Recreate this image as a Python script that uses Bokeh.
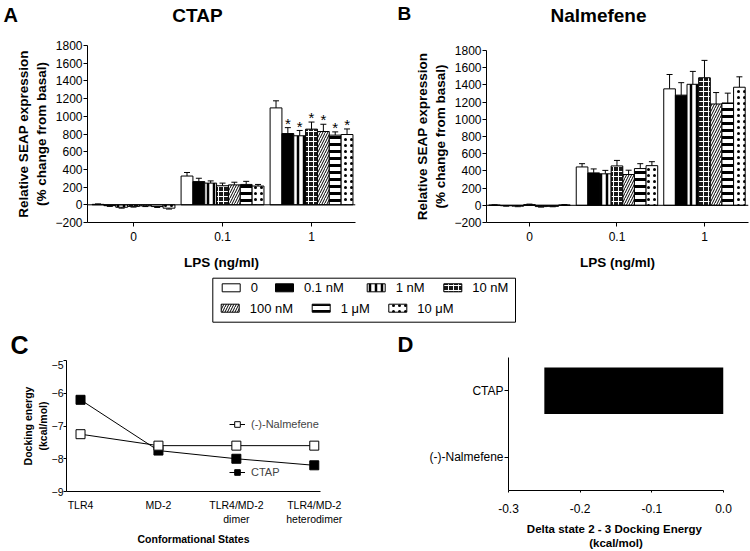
from bokeh.plotting import figure
from bokeh.models import (Range1d, FixedTicker, Span, Whisker, TeeHead, ColumnDataSource,
                          Legend, LegendItem, FactorRange, PrintfTickFormatter)
from bokeh.layouts import column, row
from bokeh.embed import file_html
from bokeh.resources import INLINE
from bokeh.core.properties import value

FONT = "Liberation Sans"

# ---------------- data ----------------
LPS_LEVELS = ["0", "0.1", "1"]
CONC = ["0", "0.1 nM", "1 nM", "10 nM", "100 nM", "1 \u03bcM", "10 \u03bcM"]

# Panel A: CTAP (one list per LPS level, one value per concentration)
CTAP_LPS0 = [5, -10, -28, -18, -12, -20, -38]
CTAP_LPS01 = [325, 262, 245, 215, 225, 230, 212]
CTAP_LPS1 = [1095, 805, 780, 855, 828, 787, 794]
CTAP_LPS0_ERR = [5, 8, 10, 8, 8, 10, 10]
CTAP_LPS01_ERR = [40, 38, 25, 30, 30, 35, 18]
CTAP_LPS1_ERR = [80, 67, 60, 80, 82, 37, 63]
CTAP_LPS1_SIG = [False, True, True, True, True, True, True]

# Panel B: Nalmefene
NAL_LPS0 = [3, -5, -10, 8, -15, -12, 4]
NAL_LPS01 = [446, 377, 366, 458, 358, 427, 461]
NAL_LPS1 = [1354, 1281, 1407, 1483, 1178, 1190, 1373]
NAL_LPS0_ERR = [3, 5, 6, 6, 6, 5, 4]
NAL_LPS01_ERR = [38, 46, 40, 64, 50, 57, 46]
NAL_LPS1_ERR = [167, 145, 150, 202, 133, 114, 121]

# Panel C: docking energies
STATES = ["TLR4", "MD-2", "TLR4/MD-2\ndimer", "TLR4/MD-2\nheterodimer"]
NALMEFENE_DOCK = [-7.25, -7.6, -7.6, -7.6]
CTAP_DOCK = [-6.2, -7.75, -8.0, -8.2]

# Panel D: delta state 2-3
DELTA_LIGANDS = ["(-)-Nalmefene", "CTAP"]
DELTA_ENERGY = [0.0, -0.25]

# ---------------- styles ----------------
STYLES = [
    dict(fill_color="white"),
    dict(fill_color="black"),
    dict(fill_color="white", hatch_pattern="vertical_line", hatch_color="black", hatch_scale=6, hatch_weight=2.5),
    dict(fill_color="#1a1a1a", hatch_pattern="cross", hatch_color="white", hatch_scale=5, hatch_weight=1),
    dict(fill_color="white", hatch_pattern="right_diagonal_line", hatch_color="black", hatch_scale=5, hatch_weight=1),
    dict(fill_color="white", hatch_pattern="horizontal_line", hatch_color="black", hatch_scale=7, hatch_weight=3),
    dict(fill_color="white", hatch_pattern="dot", hatch_color="black", hatch_scale=6, hatch_weight=0.8),
]
BAR_W = 0.133


def clean(p):
    p.frame_align = False
    p.xgrid.visible = False
    p.ygrid.visible = False
    p.outline_line_color = None
    p.background_fill_color = "white"
    p.border_fill_color = "white"
    for ax in p.axis:
        ax.axis_line_color = "black"
        ax.major_tick_line_color = "black"
        ax.minor_tick_line_color = None
        ax.major_label_text_font = FONT
        ax.major_label_text_color = "black"
        ax.axis_label_text_font = FONT
        ax.axis_label_text_font_style = "bold"
        ax.axis_label_text_color = "black"


def text_strip(width, height, xs, ys, texts, sizes, aligns):
    s = figure(width=width, height=height, x_range=Range1d(0, width), y_range=Range1d(0, height),
               output_backend="svg", toolbar_location=None, min_border=0)
    clean(s)
    s.axis.visible = False
    for x, y, t, fs, al in zip(xs, ys, texts, sizes, aligns):
        s.text(x=[x], y=[y], text=[t], text_font=value(FONT), text_font_size=fs,
               text_font_style="bold", text_align=al, text_baseline="middle", text_color="black")
    return s


def bar_panel(series, errs, sig, xr, borders):
    p = figure(width=375, height=244, x_range=Range1d(*xr), y_range=Range1d(-200, 1800),
               output_backend="svg", toolbar_location=None,
               min_border_left=borders[0], min_border_right=borders[1],
               min_border_top=borders[2], min_border_bottom=borders[3])
    clean(p)
    n = len(LPS_LEVELS)
    for j in range(len(CONC)):
        xs = [i + (j - 3) * BAR_W for i in range(n)]
        tops = [series[i][j] for i in range(n)]
        p.vbar(x=xs, top=tops, bottom=0, width=BAR_W, line_color="black", line_width=1, **STYLES[j])
        ups = [t + (e if t >= 0 else -e) for t, e in zip(tops, [errs[i][j] for i in range(n)])]
        src = ColumnDataSource(dict(base=xs, lower=tops, upper=ups))
        p.add_layout(Whisker(source=src, base="base", lower="lower", upper="upper",
                             dimension="height", line_color="black", line_width=1,
                             lower_head=None,
                             upper_head=TeeHead(size=6, line_color="black", line_width=1)))
    if sig is not None:
        sx, sy = [], []
        for j in range(len(CONC)):
            if sig[j]:
                sx.append(2 + (j - 3) * BAR_W)
                sy.append(series[2][j] + errs[2][j] + 50)
        p.text(x=sx, y=sy, text=["*"] * len(sx), text_font=value(FONT), text_font_size="15px",
               text_align="center", text_baseline="middle", text_color="black")
    p.add_layout(Span(location=0, dimension="width", line_color="black", line_width=1))
    p.xaxis.ticker = FixedTicker(ticks=[0, 1, 2])
    p.xaxis.major_label_overrides = {i: lab for i, lab in enumerate(LPS_LEVELS)}
    p.yaxis.ticker = FixedTicker(ticks=list(range(-200, 1801, 200)))
    p.xaxis.axis_label = "LPS (ng/ml)"
    p.yaxis.axis_label = "Relative SEAP expression\n(% change from basal)"
    for ax in p.axis:
        ax.major_tick_out = 4
        ax.major_tick_in = 0
        ax.major_label_text_font_size = "12px"
        ax.axis_label_text_font_size = "13.5px"
    p.xaxis.major_label_standoff = 5
    p.yaxis.major_label_standoff = 1
    p.xaxis.axis_label_standoff = 11
    p.yaxis.axis_label_standoff = 3
    return p


# ---------------- top strip (panel letters and titles) ----------------
top = text_strip(750, 28, [3, 197, 397, 598], [14, 13, 15, 13],
                 ["A", "CTAP", "B", "Nalmefene"], ["20px", "19px", "19px", "19px"],
                 ["left", "center", "left", "center"])

pA = bar_panel([CTAP_LPS0, CTAP_LPS01, CTAP_LPS1],
               [CTAP_LPS0_ERR, CTAP_LPS01_ERR, CTAP_LPS1_ERR], CTAP_LPS1_SIG,
               (-0.517, 2.494), (87, 20, 17, 48))
pB = bar_panel([NAL_LPS0, NAL_LPS01, NAL_LPS1],
               [NAL_LPS0_ERR, NAL_LPS01_ERR, NAL_LPS1_ERR], None,
               (-0.491, 2.503), (111, 2, 22, 45))

# ---------------- shared legend ----------------
pL = figure(width=750, height=51, x_range=Range1d(0, 750), y_range=Range1d(0, 51),
            output_backend="svg", toolbar_location=None, min_border=0)
clean(pL)
pL.axis.visible = False
LEG_BOX = dict(left=212.3, right=515, bottom=1.3, top=45.3)
LEG_X = [221.7, 275, 366.7, 443.3, 220.7, 311.7, 388.3]
LEG_ROW = [0, 0, 0, 0, 1, 1, 1]
LEG_ROW_Y = [35.7, 15.3]
pL.quad(left=[LEG_BOX["left"]], right=[LEG_BOX["right"]], bottom=[LEG_BOX["bottom"]],
        top=[LEG_BOX["top"]], fill_color="white", line_color="black", line_width=1)
for j in range(len(CONC)):
    pL.rect(x=[LEG_X[j] + 9], y=[LEG_ROW_Y[LEG_ROW[j]]], width=18, height=8,
            line_color="black", line_width=1, **STYLES[j])
pL.text(x=[LEG_X[j] + 28.5 for j in range(len(CONC))],
        y=[LEG_ROW_Y[LEG_ROW[j]] for j in range(len(CONC))],
        text=CONC, text_font=value(FONT), text_font_size="13px",
        text_baseline="middle", text_align="left", text_color="black")

# ---------------- panel C ----------------
stripC = text_strip(375, 37, [10], [16], ["C"], ["25px"], ["left"])
pC = figure(width=375, height=191, x_range=Range1d(-0.18, 3.08), y_range=Range1d(-9, -5),
            output_backend="svg", toolbar_location=None,
            min_border_left=66, min_border_right=55, min_border_top=0, min_border_bottom=60)
clean(pC)
xs = list(range(len(STATES)))
c_line = pC.line(xs, CTAP_DOCK, line_color="black", line_width=1)
c_mark = pC.scatter(xs, CTAP_DOCK, marker="square", size=9, fill_color="black", line_color="black")
n_line = pC.line(xs, NALMEFENE_DOCK, line_color="black", line_width=1)
n_mark = pC.scatter(xs, NALMEFENE_DOCK, marker="square", size=9, fill_color="white", line_color="black")
pC.xaxis.ticker = FixedTicker(ticks=xs)
pC.xaxis.major_label_overrides = {i: s for i, s in enumerate(STATES)}
pC.yaxis.ticker = FixedTicker(ticks=[-9, -8, -7, -6, -5])
pC.xaxis.axis_label = "Conformational States"
pC.yaxis.axis_label = "Docking energy\n(kcal/mol)"
for ax in pC.axis:
    ax.major_label_text_font_size = "10.5px"
    ax.axis_label_text_font_size = "10.5px"
    ax.major_tick_in = 0
pC.yaxis.major_tick_out = 3
pC.xaxis.major_tick_out = 0
pC.xaxis.major_label_standoff = 7
pC.yaxis.major_label_standoff = 0
pC.xaxis.axis_label_standoff = 5
pC.yaxis.axis_label_standoff = 0
legC = Legend(items=[LegendItem(label="(-)-Nalmefene", renderers=[n_line, n_mark]),
                     LegendItem(label="CTAP", renderers=[c_line, c_mark])],
              location=(163, 12), padding=0, margin=0, spacing=34,
              glyph_width=16, glyph_height=14, label_height=14, label_standoff=6,
              label_text_font=FONT, label_text_font_size="11px",
              border_line_color=None, background_fill_alpha=0)
pC.add_layout(legC)

# ---------------- panel D ----------------
stripD = text_strip(375, 34, [22], [13], ["D"], ["22px"], ["left"])
pD = figure(width=375, height=194, x_range=Range1d(-0.3, 0.0), y_range=FactorRange(*DELTA_LIGANDS),
            output_backend="svg", toolbar_location=None,
            min_border_left=133, min_border_right=27, min_border_top=0, min_border_bottom=53)
clean(pD)
pD.hbar(y=DELTA_LIGANDS, left=0, right=DELTA_ENERGY, height=0.7, fill_color="black", line_color=None)
pD.xaxis.ticker = FixedTicker(ticks=[-0.3, -0.2, -0.1, 0.0])
pD.xaxis.formatter = PrintfTickFormatter(format="%.1f")
pD.xaxis.axis_label = "Delta state 2 - 3 Docking  Energy\n(kcal/mol)"
for ax in pD.axis:
    ax.major_label_text_font_size = "12px"
    ax.axis_label_text_font_size = "11.5px"
    ax.major_tick_in = 0
    ax.major_tick_out = 4
pD.xaxis.major_tick_out = 2
pD.xaxis.major_label_standoff = 11
pD.yaxis.major_label_standoff = 1
pD.xaxis.axis_label_standoff = 7

layout = column(top, row(pA, pB), pL,
                row(column(stripC, pC), column(stripD, pD)))
open("out.html", "w").write(file_html(layout, INLINE))
